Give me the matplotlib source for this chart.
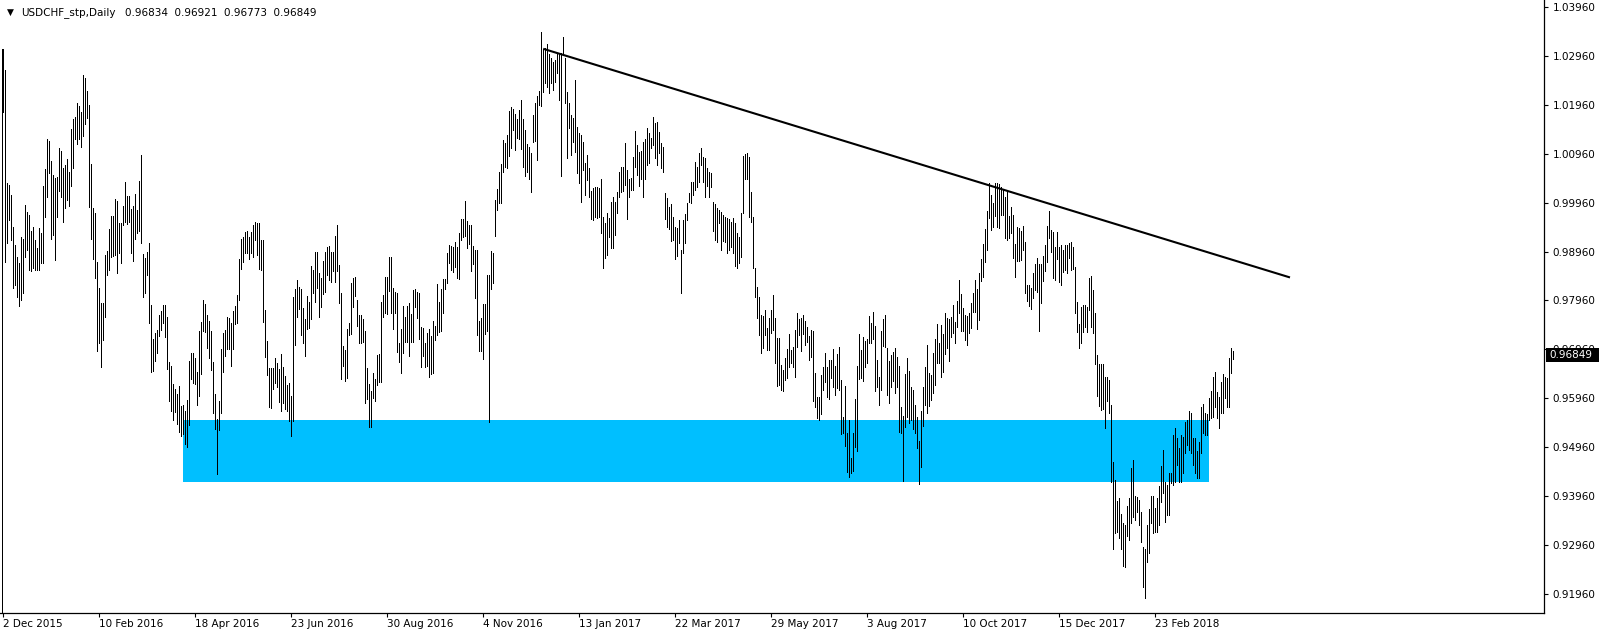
import matplotlib
matplotlib.use("Agg")
import matplotlib.pyplot as plt
from matplotlib.patches import Rectangle
from matplotlib.transforms import IdentityTransform
import numpy as np

plt.rcParams['font.family'] = ['DejaVu Sans']

symbol_title = "USDCHF_stp,Daily"
last_ohlc = [0.96834, 0.96921, 0.96773, 0.96849]

date_labels = ["2 Dec 2015", "10 Feb 2016", "18 Apr 2016", "23 Jun 2016", "30 Aug 2016",
               "4 Nov 2016", "13 Jan 2017", "22 Mar 2017", "29 May 2017", "3 Aug 2017",
               "10 Oct 2017", "15 Dec 2017", "23 Feb 2018"]
bars_per_label = 48

price_ticks = [0.91960, 0.92960, 0.93960, 0.94960, 0.95960, 0.96960, 0.97960,
               0.98960, 0.99960, 1.00960, 1.01960, 1.02960, 1.03960]

high = [
 1.0310, 1.0267, 1.0036, 1.0032, 1.0011, 0.9946, 0.9909, 0.9885, 0.9873, 0.9926,
 0.9922, 0.9991, 0.9977, 0.9971, 0.9938, 0.9946, 0.9920, 0.9903, 0.9944, 0.9934,
 1.0030, 1.0065, 1.0126, 1.0122, 1.0081, 1.0052, 1.0046, 1.0048, 1.0107, 1.0101,
 1.0067, 1.0073, 1.0085, 1.0058, 1.0146, 1.0167, 1.0171, 1.0199, 1.0193, 1.0181,
 1.0256, 1.0250, 1.0224, 1.0195, 1.0075, 0.9985, 0.9975, 0.9875, 0.9822, 0.9791,
 0.9791, 0.9889, 0.9897, 0.9942, 0.9969, 0.9969, 1.0003, 0.9999, 0.9954, 0.9954,
 0.9989, 1.0038, 1.0009, 1.0009, 0.9983, 0.9989, 1.0014, 0.9981, 1.0040, 1.0093,
 0.9891, 0.9883, 0.9895, 0.9913, 0.9787, 0.9717, 0.9730, 0.9736, 0.9766, 0.9775,
 0.9787, 0.9787, 0.9762, 0.9670, 0.9662, 0.9625, 0.9615, 0.9605, 0.9621, 0.9581,
 0.9583, 0.9570, 0.9593, 0.9672, 0.9689, 0.9689, 0.9679, 0.9650, 0.9734, 0.9752,
 0.9797, 0.9789, 0.9766, 0.9754, 0.9734, 0.9670, 0.9605, 0.9554, 0.9591, 0.9697,
 0.9730, 0.9736, 0.9762, 0.9760, 0.9750, 0.9775, 0.9785, 0.9807, 0.9881, 0.9922,
 0.9926, 0.9936, 0.9938, 0.9926, 0.9936, 0.9950, 0.9956, 0.9954, 0.9954, 0.9920,
 0.9920, 0.9777, 0.9713, 0.9658, 0.9658, 0.9658, 0.9679, 0.9668, 0.9656, 0.9687,
 0.9660, 0.9642, 0.9623, 0.9628, 0.9601, 0.9803, 0.9819, 0.9838, 0.9824, 0.9819,
 0.9781, 0.9758, 0.9805, 0.9793, 0.9866, 0.9858, 0.9895, 0.9895, 0.9852, 0.9842,
 0.9877, 0.9895, 0.9905, 0.9907, 0.9895, 0.9895, 0.9928, 0.9950, 0.9869, 0.9811,
 0.9703, 0.9695, 0.9738, 0.9750, 0.9832, 0.9842, 0.9844, 0.9797, 0.9766, 0.9766,
 0.9758, 0.9734, 0.9658, 0.9625, 0.9611, 0.9648, 0.9636, 0.9685, 0.9687, 0.9793,
 0.9807, 0.9844, 0.9844, 0.9885, 0.9885, 0.9822, 0.9813, 0.9811, 0.9709, 0.9738,
 0.9785, 0.9762, 0.9785, 0.9791, 0.9768, 0.9817, 0.9819, 0.9813, 0.9811, 0.9742,
 0.9740, 0.9709, 0.9730, 0.9738, 0.9724, 0.9754, 0.9744, 0.9830, 0.9793, 0.9819,
 0.9840, 0.9840, 0.9893, 0.9909, 0.9907, 0.9905, 0.9915, 0.9905, 0.9934, 0.9962,
 0.9962, 0.9999, 0.9958, 0.9950, 0.9950, 0.9907, 0.9899, 0.9899, 0.9754, 0.9760,
 0.9789, 0.9789, 0.9848, 0.9848, 0.9897, 0.9893, 1.0001, 1.0024, 1.0058, 1.0075,
 1.0124, 1.0118, 1.0134, 1.0183, 1.0191, 1.0187, 1.0177, 1.0167, 1.0185, 1.0205,
 1.0167, 1.0144, 1.0116, 1.0109, 1.0097, 1.0175, 1.0199, 1.0214, 1.0224, 1.0344,
 1.0310, 1.0312, 1.0320, 1.0299, 1.0291, 1.0283, 1.0287, 1.0301, 1.0299, 1.0301,
 1.0334, 1.0291, 1.0222, 1.0199, 1.0175, 1.0169, 1.0246, 1.0150, 1.0138, 1.0134,
 1.0120, 1.0077, 1.0093, 1.0067, 1.0020, 1.0026, 1.0028, 1.0028, 1.0026, 1.0044,
 0.9967, 0.9954, 0.9975, 0.9964, 0.9997, 1.0007, 0.9997, 1.0018, 1.0058, 1.0069,
 1.0069, 1.0118, 1.0063, 1.0044, 1.0046, 1.0089, 1.0142, 1.0114, 1.0099, 1.0101,
 1.0120, 1.0126, 1.0148, 1.0138, 1.0128, 1.0171, 1.0158, 1.0161, 1.0140, 1.0118,
 1.0109, 1.0016, 1.0005, 0.9987, 0.9993, 0.9967, 0.9946, 0.9944, 0.9960, 0.9899,
 0.9960, 0.9973, 0.9995, 1.0016, 1.0038, 1.0038, 1.0079, 1.0069, 1.0097, 1.0107,
 1.0089, 1.0087, 1.0067, 1.0058, 1.0056, 0.9997, 0.9993, 0.9985, 0.9981, 0.9977,
 0.9971, 0.9967, 0.9964, 0.9962, 0.9956, 0.9964, 0.9954, 0.9934, 0.9926, 0.9975,
 1.0091, 1.0095, 1.0097, 1.0089, 1.0018, 0.9967, 0.9862, 0.9824, 0.9803, 0.9766,
 0.9764, 0.9777, 0.9740, 0.9760, 0.9777, 0.9807, 0.9760, 0.9719, 0.9719, 0.9664,
 0.9654, 0.9679, 0.9697, 0.9728, 0.9695, 0.9701, 0.9736, 0.9770, 0.9758, 0.9760,
 0.9766, 0.9754, 0.9742, 0.9724, 0.9736, 0.9734, 0.9648, 0.9599, 0.9599, 0.9644,
 0.9660, 0.9689, 0.9660, 0.9674, 0.9674, 0.9697, 0.9662, 0.9687, 0.9701, 0.9634,
 0.9558, 0.9621, 0.9525, 0.9552, 0.9474, 0.9525, 0.9595, 0.9662, 0.9728, 0.9695,
 0.9721, 0.9713, 0.9717, 0.9764, 0.9750, 0.9772, 0.9744, 0.9674, 0.9640, 0.9734,
 0.9758, 0.9766, 0.9699, 0.9672, 0.9685, 0.9691, 0.9699, 0.9681, 0.9662, 0.9578,
 0.9560, 0.9646, 0.9679, 0.9652, 0.9619, 0.9613, 0.9583, 0.9558, 0.9509, 0.9570,
 0.9619, 0.9660, 0.9705, 0.9648, 0.9644, 0.9689, 0.9717, 0.9748, 0.9709, 0.9746,
 0.9728, 0.9770, 0.9760, 0.9758, 0.9762, 0.9787, 0.9752, 0.9795, 0.9838, 0.9809,
 0.9781, 0.9766, 0.9764, 0.9770, 0.9791, 0.9811, 0.9838, 0.9819, 0.9852, 0.9881,
 0.9911, 0.9942, 0.9979, 1.0036, 1.0011, 0.9995, 1.0036, 1.0036, 1.0034, 1.0028,
 1.0024, 1.0007, 1.0018, 0.9969, 0.9987, 0.9971, 0.9911, 0.9946, 0.9944, 0.9938,
 0.9948, 0.9915, 0.9828, 0.9828, 0.9822, 0.9852, 0.9870, 0.9883, 0.9870, 0.9870,
 0.9887, 0.9909, 0.9948, 0.9979, 0.9940, 0.9936, 0.9905, 0.9936, 0.9905, 0.9909,
 0.9899, 0.9909, 0.9909, 0.9913, 0.9915, 0.9905, 0.9864, 0.9793, 0.9748, 0.9783,
 0.9787, 0.9787, 0.9783, 0.9842, 0.9846, 0.9817, 0.9770, 0.9685, 0.9666, 0.9666,
 0.9666, 0.9640, 0.9640, 0.9634, 0.9583, 0.9466, 0.9429, 0.9387, 0.9393, 0.9360,
 0.9342, 0.9338, 0.9376, 0.9393, 0.9454, 0.9470, 0.9397, 0.9395, 0.9389, 0.9364,
 0.9293, 0.9289, 0.9338, 0.9370, 0.9397, 0.9397, 0.9372, 0.9393, 0.9417, 0.9458,
 0.9491, 0.9425, 0.9419, 0.9444, 0.9444, 0.9521, 0.9536, 0.9515, 0.9495, 0.9521,
 0.9517, 0.9548, 0.9552, 0.9570, 0.9566, 0.9515, 0.9515, 0.9489, 0.9507, 0.9578,
 0.9585, 0.9566, 0.9564, 0.9597, 0.9611, 0.9640, 0.9650, 0.9609, 0.9599, 0.9630,
 0.9646, 0.9640, 0.9638, 0.9679, 0.9699, 0.96921,
]

low = [
 1.0181, 0.9875, 0.9913, 0.9960, 0.9920, 0.9822, 0.9828, 0.9803, 0.9785, 0.9797,
 0.9811, 0.9885, 0.9899, 0.9858, 0.9856, 0.9862, 0.9858, 0.9858, 0.9858, 0.9873,
 0.9873, 0.9967, 1.0007, 1.0056, 0.9922, 0.9930, 0.9879, 0.9967, 1.0020, 1.0007,
 0.9956, 0.9985, 1.0001, 0.9989, 1.0030, 1.0067, 1.0126, 1.0116, 1.0126, 1.0109,
 1.0132, 1.0156, 1.0169, 0.9987, 0.9922, 0.9881, 0.9842, 0.9693, 0.9709, 0.9660,
 0.9715, 0.9762, 0.9848, 0.9858, 0.9885, 0.9887, 0.9889, 0.9852, 0.9893, 0.9873,
 0.9950, 0.9956, 0.9952, 0.9956, 0.9893, 0.9877, 0.9922, 0.9934, 0.9938, 0.9913,
 0.9803, 0.9811, 0.9848, 0.9750, 0.9650, 0.9652, 0.9672, 0.9689, 0.9724, 0.9736,
 0.9750, 0.9721, 0.9656, 0.9591, 0.9570, 0.9552, 0.9568, 0.9544, 0.9527, 0.9519,
 0.9523, 0.9503, 0.9497, 0.9542, 0.9636, 0.9628, 0.9625, 0.9583, 0.9601, 0.9646,
 0.9734, 0.9732, 0.9699, 0.9679, 0.9654, 0.9566, 0.9534, 0.9442, 0.9532, 0.9566,
 0.9650, 0.9683, 0.9697, 0.9697, 0.9662, 0.9697, 0.9748, 0.9750, 0.9797, 0.9860,
 0.9875, 0.9893, 0.9893, 0.9881, 0.9893, 0.9885, 0.9920, 0.9889, 0.9860, 0.9858,
 0.9752, 0.9681, 0.9644, 0.9578, 0.9576, 0.9615, 0.9628, 0.9619, 0.9589, 0.9570,
 0.9587, 0.9574, 0.9570, 0.9550, 0.9519, 0.9550, 0.9705, 0.9762, 0.9779, 0.9726,
 0.9709, 0.9683, 0.9738, 0.9740, 0.9758, 0.9811, 0.9793, 0.9822, 0.9762, 0.9783,
 0.9809, 0.9813, 0.9848, 0.9838, 0.9834, 0.9856, 0.9834, 0.9856, 0.9791, 0.9636,
 0.9662, 0.9632, 0.9638, 0.9726, 0.9728, 0.9783, 0.9805, 0.9744, 0.9709, 0.9709,
 0.9711, 0.9587, 0.9595, 0.9538, 0.9538, 0.9597, 0.9591, 0.9623, 0.9630, 0.9630,
 0.9762, 0.9770, 0.9768, 0.9815, 0.9770, 0.9738, 0.9770, 0.9691, 0.9670, 0.9648,
 0.9689, 0.9711, 0.9711, 0.9683, 0.9711, 0.9711, 0.9783, 0.9760, 0.9717, 0.9660,
 0.9683, 0.9660, 0.9662, 0.9640, 0.9646, 0.9648, 0.9715, 0.9726, 0.9732, 0.9734,
 0.9770, 0.9819, 0.9832, 0.9873, 0.9858, 0.9854, 0.9864, 0.9842, 0.9840, 0.9920,
 0.9926, 0.9928, 0.9903, 0.9911, 0.9856, 0.9871, 0.9801, 0.9726, 0.9693, 0.9693,
 0.9677, 0.9728, 0.9734, 0.9548, 0.9819, 0.9832, 0.9928, 0.9981, 0.9995, 0.9995,
 1.0058, 1.0069, 1.0067, 1.0091, 1.0107, 1.0144, 1.0103, 1.0128, 1.0126, 1.0105,
 1.0069, 1.0050, 1.0058, 1.0044, 1.0018, 1.0120, 1.0122, 1.0083, 1.0195, 1.0193,
 1.0222, 1.0240, 1.0232, 1.0220, 1.0240, 1.0226, 1.0242, 1.0261, 1.0205, 1.0050,
 1.0297, 1.0199, 1.0087, 1.0148, 1.0093, 1.0120, 1.0099, 1.0056, 1.0036, 0.9997,
 1.0063, 1.0011, 1.0042, 1.0007, 0.9962, 0.9960, 0.9967, 0.9964, 0.9967, 0.9934,
 0.9862, 0.9883, 0.9889, 0.9926, 0.9903, 0.9903, 0.9930, 0.9975, 1.0007, 1.0018,
 1.0020, 1.0032, 0.9962, 1.0007, 1.0022, 1.0022, 1.0069, 1.0052, 1.0030, 1.0044,
 1.0007, 1.0044, 1.0073, 1.0077, 1.0107, 1.0114, 1.0087, 1.0073, 1.0097, 1.0067,
 1.0058, 0.9962, 0.9946, 0.9942, 0.9918, 0.9920, 0.9881, 0.9887, 0.9913, 0.9811,
 0.9893, 0.9913, 0.9960, 0.9997, 0.9995, 1.0011, 1.0022, 1.0028, 1.0038, 1.0073,
 1.0038, 1.0007, 1.0030, 1.0007, 1.0028, 0.9938, 0.9920, 0.9915, 0.9954, 0.9899,
 0.9918, 0.9915, 0.9893, 0.9899, 0.9905, 0.9893, 0.9866, 0.9862, 0.9873, 0.9885,
 0.9975, 1.0044, 1.0044, 0.9967, 0.9956, 0.9862, 0.9803, 0.9760, 0.9726, 0.9689,
 0.9699, 0.9726, 0.9695, 0.9695, 0.9730, 0.9736, 0.9668, 0.9621, 0.9623, 0.9613,
 0.9611, 0.9634, 0.9638, 0.9660, 0.9668, 0.9660, 0.9640, 0.9701, 0.9726, 0.9693,
 0.9728, 0.9705, 0.9711, 0.9674, 0.9681, 0.9591, 0.9578, 0.9556, 0.9552, 0.9564,
 0.9613, 0.9630, 0.9599, 0.9595, 0.9638, 0.9619, 0.9603, 0.9617, 0.9613, 0.9523,
 0.9525, 0.9499, 0.9446, 0.9436, 0.9444, 0.9448, 0.9497, 0.9489, 0.9636, 0.9638,
 0.9632, 0.9660, 0.9668, 0.9709, 0.9709, 0.9717, 0.9611, 0.9619, 0.9583, 0.9613,
 0.9703, 0.9701, 0.9603, 0.9587, 0.9619, 0.9632, 0.9607, 0.9619, 0.9527, 0.9525,
 0.9427, 0.9538, 0.9558, 0.9546, 0.9552, 0.9534, 0.9525, 0.9495, 0.9421, 0.9456,
 0.9540, 0.9583, 0.9566, 0.9581, 0.9593, 0.9607, 0.9623, 0.9668, 0.9668, 0.9640,
 0.9650, 0.9687, 0.9699, 0.9672, 0.9721, 0.9730, 0.9709, 0.9742, 0.9770, 0.9734,
 0.9734, 0.9715, 0.9705, 0.9730, 0.9740, 0.9772, 0.9772, 0.9738, 0.9756, 0.9836,
 0.9844, 0.9875, 0.9899, 0.9964, 0.9940, 0.9946, 0.9969, 0.9946, 0.9944, 0.9971,
 0.9971, 0.9924, 0.9920, 0.9924, 0.9934, 0.9883, 0.9844, 0.9877, 0.9877, 0.9879,
 0.9899, 0.9811, 0.9795, 0.9785, 0.9779, 0.9801, 0.9817, 0.9813, 0.9734, 0.9791,
 0.9836, 0.9856, 0.9875, 0.9924, 0.9895, 0.9842, 0.9838, 0.9881, 0.9834, 0.9828,
 0.9854, 0.9858, 0.9852, 0.9883, 0.9858, 0.9860, 0.9770, 0.9732, 0.9699, 0.9709,
 0.9732, 0.9742, 0.9732, 0.9777, 0.9742, 0.9730, 0.9666, 0.9601, 0.9581, 0.9572,
 0.9574, 0.9536, 0.9591, 0.9566, 0.9425, 0.9289, 0.9321, 0.9323, 0.9311, 0.9289,
 0.9254, 0.9252, 0.9315, 0.9307, 0.9342, 0.9354, 0.9348, 0.9364, 0.9338, 0.9303,
 0.9211, 0.9188, 0.9262, 0.9280, 0.9342, 0.9321, 0.9323, 0.9323, 0.9338, 0.9385,
 0.9403, 0.9344, 0.9358, 0.9358, 0.9423, 0.9419, 0.9425, 0.9460, 0.9425, 0.9425,
 0.9444, 0.9485, 0.9501, 0.9491, 0.9485, 0.9460, 0.9444, 0.9434, 0.9434, 0.9485,
 0.9525, 0.9521, 0.9521, 0.9552, 0.9556, 0.9558, 0.9578, 0.9556, 0.9536, 0.9566,
 0.9566, 0.9597, 0.9578, 0.9578, 0.9648, 0.96773,
]

# support zone (bar index range, price range) and trend line (bar, price) anchors
zone_bars = [90, 603]
zone_prices = [0.9425, 0.9552]
trend_bars = [270, 643.4]
trend_prices = [1.0310, 0.9843]

n = min(len(high), len(low))
idx = np.arange(n)

W, H = 1604, 637
fig = plt.figure(figsize=(W / 100, H / 100), dpi=100)
fig.patch.set_facecolor('white')
ax_bottom_px = 612.7
ax_right_px = 1544
ax = fig.add_axes([0, (H - ax_bottom_px) / H, ax_right_px / W, ax_bottom_px / H])
ax.set_facecolor('white')
ax.set_xlim(-1.6, 770.4)
ax.set_ylim(0.91584, 1.04096)

# support zone
ax.add_patch(Rectangle((zone_bars[0] - 0.1, zone_prices[0]), zone_bars[1] - zone_bars[0],
                       zone_prices[1] - zone_prices[0], facecolor='#00BFFF',
                       edgecolor='none', zorder=1))

# OHLC bars (high-low lines)
ax.vlines(idx, np.array(low[:n]), np.array(high[:n]), colors='black',
          linewidth=0.72, antialiased=False, zorder=2)

# trend line
ax.plot(trend_bars, trend_prices, color='black', linewidth=1.5, zorder=3,
        solid_capstyle='butt')

# spines
ax.spines['top'].set_visible(False)
ax.spines['left'].set_position(('data', -0.55))
ax.spines['left'].set_bounds(0.91584, high[0])
ax.spines['left'].set_linewidth(0.72)
ax.spines['left'].set_color('black')
for s in ['right', 'bottom']:
    ax.spines[s].set_linewidth(0.9)
    ax.spines[s].set_color('black')

# y axis on the right
ax.yaxis.tick_right()
ax.set_yticks(price_ticks)
ax.set_yticklabels([f"{v:.5f}" for v in price_ticks])
ax.tick_params(axis='y', direction='out', length=3, width=0.8, pad=3,
               labelsize=7.5, colors='black')

# x axis
ax.set_xticks(np.arange(len(date_labels)) * bars_per_label)
ax.set_xticklabels(date_labels)
ax.tick_params(axis='x', direction='out', length=3, width=0.8, pad=1.5,
               labelsize=7.5, colors='black')
for lab in ax.get_xticklabels():
    lab.set_horizontalalignment('left')

# title text
ty = 1 - 12.5 / H
fig.text(7 / W, ty, "\u25BC", fontsize=6.5, va='center', ha='left', color='black')
fig.text(21 / W, ty, symbol_title, fontsize=7.5, va='center', ha='left', color='black')
fig.text(125 / W, ty, "  ".join(f"{v:.5f}" for v in last_ohlc), fontsize=7.5,
         va='center', ha='left', color='black')

# current price label
fig.canvas.draw()
y_disp = ax.transData.transform((0, last_ohlc[3]))[1]
fig.add_artist(Rectangle((1546, y_disp - 7.5), 53, 14, transform=IdentityTransform(),
                         facecolor='black', edgecolor='none', zorder=10))
fig.text(1549 / W, y_disp / H, f"{last_ohlc[3]:.5f}", fontsize=7.5, color='white',
         va='center', ha='left', zorder=11)

fig.savefig("out.png", dpi=100, facecolor='white')
